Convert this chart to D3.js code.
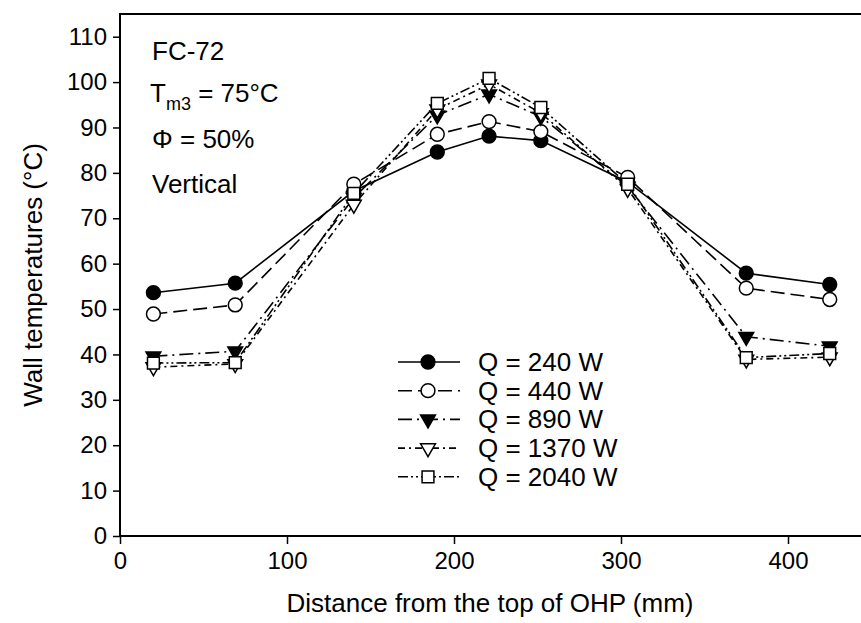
<!DOCTYPE html>
<html>
<head>
<meta charset="utf-8">
<script src="https://cdn.jsdelivr.net/npm/d3@7"></script>
<style>
  body { margin: 0; background: #fff; }
  text { font-family: "Liberation Sans", Arial, sans-serif; fill: #000; }
</style>
</head>
<body>
<svg id="chart" width="861" height="623"></svg>
<script>
  // distances along the pipe (mm)
  const positions = [20, 69, 140, 190, 221, 252, 304, 375, 425];

  const seriesNames = ['Q = 240 W', 'Q = 440 W', 'Q = 890 W', 'Q = 1370 W', 'Q = 2040 W'];

  const q240 = [53.6, 55.7, 76.0, 84.6, 88.1, 87.1, 78.0, 57.9, 55.4];
  const q440 = [48.9, 50.9, 77.5, 88.5, 91.3, 89.1, 79.0, 54.6, 52.1];
  const q890 = [39.6, 40.7, 74.5, 92.7, 97.3, 92.4, 77.0, 43.9, 41.8];
  const q1370 = [37.2, 37.9, 73.0, 94.0, 99.5, 93.2, 76.5, 38.9, 39.4];
  const q2040 = [38.1, 38.2, 75.5, 95.3, 100.8, 94.4, 77.5, 39.3, 40.2];

  const xTicks = [0, 100, 200, 300, 400];
  const yTicks = [0, 10, 20, 30, 40, 50, 60, 70, 80, 90, 100, 110];

  const notes = ['FC-72', 'Tm3', 'Φ = 50%', 'Vertical'];

  const series = [
    { name: seriesNames[0], values: q240, marker: 'circle', filled: true, dash: null },
    { name: seriesNames[1], values: q440, marker: 'circle', filled: false, dash: '14,6' },
    { name: seriesNames[2], values: q890, marker: 'down', filled: true, dash: '14,5,2,5' },
    { name: seriesNames[3], values: q1370, marker: 'down', filled: false, dash: '7,4,2,4' },
    { name: seriesNames[4], values: q2040, marker: 'square', filled: false, dash: '10,3,2,3,2,3' }
  ];

  const svg = d3.select('#chart');
  const mLeft = 120, mTop = 14, mBottom = 536;

  const x = d3.scaleLinear().domain([0, 450]).range([mLeft, mLeft + 450 * 1.67]);
  const y = d3.scaleLinear().domain([0, 115]).range([mBottom, mTop]);

  // frame
  svg.append('rect')
    .attr('x', x(0)).attr('y', y(115))
    .attr('width', x(450) - x(0)).attr('height', y(0) - y(115))
    .attr('fill', 'none').attr('stroke', '#000').attr('stroke-width', 2);

  const xAxis = svg.append('g')
    .attr('transform', `translate(0,${mBottom})`)
    .call(d3.axisBottom(x).tickValues(xTicks).tickSize(8).tickPadding(8));
  const yAxis = svg.append('g')
    .attr('transform', `translate(${mLeft},0)`)
    .call(d3.axisLeft(y).tickValues(yTicks).tickSize(7).tickPadding(6));

  [xAxis, yAxis].forEach(g => {
    g.select('.domain').remove();
    g.selectAll('line').attr('stroke', '#000').attr('stroke-width', 1.5);
    g.selectAll('text').style('font-size', '24px').attr('fill', '#000')
      .style('font-family', '"Liberation Sans", Arial, sans-serif');
  });

  // axis titles
  svg.append('text')
    .attr('x', 490).attr('y', 612)
    .attr('text-anchor', 'middle')
    .style('font-size', '26px')
    .text('Distance from the top of OHP (mm)');
  svg.append('text')
    .attr('transform', `translate(42,${(mTop + mBottom) / 2}) rotate(-90)`)
    .attr('text-anchor', 'middle')
    .style('font-size', '26px')
    .text('Wall temperatures (°C)');

  // lines
  const line = d3.line()
    .x((d, i) => x(positions[i]))
    .y(d => y(d));

  const symbolFor = (m) => m === 'circle' ? d3.symbolCircle
    : m === 'square' ? d3.symbolSquare : d3.symbolTriangle;
  const sizeFor = (m) => m === 'circle' ? 150 : m === 'square' ? 140 : 95;

  series.forEach(s => {
    svg.append('path')
      .datum(s.values)
      .attr('d', line)
      .attr('fill', 'none')
      .attr('stroke', '#000')
      .attr('stroke-width', 1.6)
      .attr('stroke-dasharray', s.dash);
  });

  series.forEach(s => {
    svg.selectAll(null)
      .data(s.values)
      .enter()
      .append('path')
      .attr('d', d3.symbol().type(symbolFor(s.marker)).size(sizeFor(s.marker)))
      .attr('transform', (d, i) => `translate(${x(positions[i])},${y(d)})` + (s.marker === 'down' ? ' rotate(180)' : ''))
      .attr('fill', s.filled ? '#000' : '#fff')
      .attr('stroke', '#000')
      .attr('stroke-width', 1.5);
  });

  // legend
  const legend = svg.append('g').attr('transform', 'translate(398,362)');
  series.forEach((s, i) => {
    const g = legend.append('g').attr('transform', `translate(0,${i * 28.7})`);
    g.append('line')
      .attr('x1', 0).attr('x2', 62)
      .attr('stroke', '#000').attr('stroke-width', 1.6)
      .attr('stroke-dasharray', s.dash);
    g.append('path')
      .attr('d', d3.symbol().type(symbolFor(s.marker)).size(sizeFor(s.marker)))
      .attr('transform', 'translate(30,0)' + (s.marker === 'down' ? ' rotate(180)' : ''))
      .attr('fill', s.filled ? '#000' : '#fff')
      .attr('stroke', '#000').attr('stroke-width', 1.5);
    g.append('text')
      .attr('x', 80).attr('y', 9)
      .style('font-size', '26px')
      .text(s.name);
  });

  // annotations
  const ann = svg.append('g').style('font-size', '26px');
  ann.append('text').attr('x', 152).attr('y', 60).text(notes[0]);
  const t = ann.append('text').attr('x', 150).attr('y', 102);
  t.append('tspan').text('T');
  t.append('tspan').attr('dy', 8).style('font-size', '18px').text('m3');
  t.append('tspan').attr('dy', -8).text(' = 75°C');
  ann.append('text').attr('x', 152).attr('y', 148).text(notes[2]);
  ann.append('text').attr('x', 152).attr('y', 193).text(notes[3]);
</script>
</body>
</html>
